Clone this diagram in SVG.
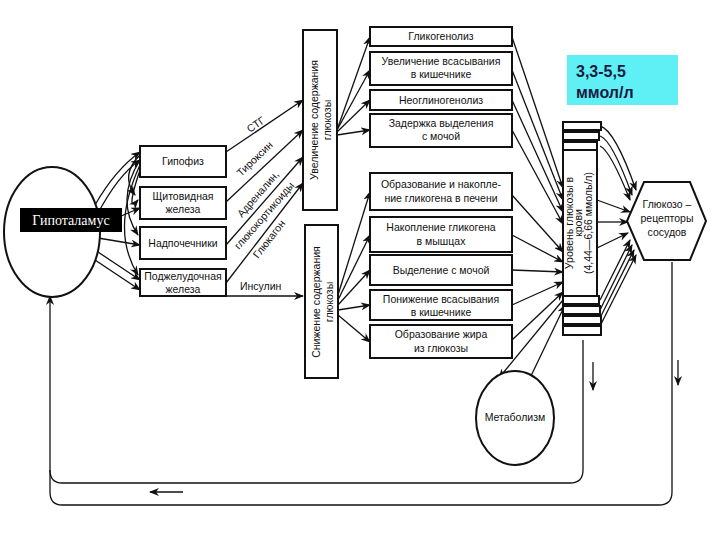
<svg xmlns="http://www.w3.org/2000/svg" width="720" height="540" viewBox="0 0 720 540">
<defs>
<marker id="a" markerWidth="10" markerHeight="8" refX="9" refY="4" orient="auto" markerUnits="userSpaceOnUse"><path d="M0,0 L10,4 L0,8 L3,4 Z" fill="#111"/></marker>
<style>
.b{fill:#fff;stroke:#111;stroke-width:2}
.t{font-family:"Liberation Sans",Arial,sans-serif;font-size:10.5px;fill:#111;text-anchor:middle}
.c path,.c line{fill:none;stroke:#111;stroke-width:1.3}
.ar{marker-end:url(#a)}
.lb{font-family:"Liberation Sans",Arial,sans-serif;font-size:10.5px;fill:#111}
.hy{font-family:"Liberation Serif","Times New Roman",serif;font-size:14px;fill:#fff;text-anchor:middle}
</style>
</defs>
<rect width="720" height="540" fill="#fff"/>
<g class="c">
<path class="ar" d="M95,205 Q115,170 140,152"/>
<path class="ar" d="M97,215 Q118,175 140,160"/>
<path class="ar" d="M100,225 L140,208"/>
<path class="ar" d="M98,238 L140,245"/>
<path class="ar" d="M95,250 L140,280"/>
<path class="ar" d="M92,258 L140,290"/>
<path class="ar" d="M140,155 Q120,175 135,195"/>
<path class="ar" d="M140,160 Q115,200 138,235"/>
<path class="ar" d="M140,165 Q110,230 138,275"/>
<path class="ar" d="M140,170 Q125,215 138,200"/>
<path class="ar" d="M226,152 L303,100"/>
<path class="ar" d="M226,202 L303,130"/>
<path class="ar" d="M226,245 L303,157"/>
<path class="ar" d="M226,283 L303,183"/>
<path class="ar" d="M226,296 L303,296"/>
<path class="ar" d="M337,130 L370,37"/>
<path class="ar" d="M337,130 L370,70"/>
<path class="ar" d="M337,132 L370,100"/>
<path class="ar" d="M337,135 L370,130"/>
<path class="ar" d="M338,295 L370,192"/>
<path class="ar" d="M338,300 L370,235"/>
<path class="ar" d="M338,305 L370,270"/>
<path class="ar" d="M338,310 L370,305"/>
<path class="ar" d="M338,315 L370,342"/>
<path class="ar" d="M512,37 L563,188"/>
<path class="ar" d="M512,70 L563,200"/>
<path class="ar" d="M512,100 L563,212"/>
<path class="ar" d="M512,130 L563,224"/>
<path class="ar" d="M512,195 L563,252"/>
<path class="ar" d="M512,235 L563,262"/>
<path class="ar" d="M512,270 L563,272"/>
<path class="ar" d="M512,305 L563,282"/>
<path class="ar" d="M512,340 L563,292"/>
<path class="ar" d="M563,300 L499,378"/>
<path class="ar" d="M530,378 L565,305"/>
<path class="ar" d="M600,126 Q615,130 636,190"/>
<path class="ar" d="M600,136 Q612,140 632,195"/>
<path class="ar" d="M600,146 Q610,150 630,200"/>
<path class="ar" d="M597,200 L630,212"/>
<path class="ar" d="M597,222 L628,222"/>
<path class="ar" d="M597,248 L628,233"/>
<path class="ar" d="M600,300 L630,240"/>
<path class="ar" d="M600,310 L632,245"/>
<path class="ar" d="M600,318 L634,250"/>
<path class="ar" d="M600,326 L636,255"/>
<path d="M583,340 L583,470 Q583,483 570,483 L62,483 Q50,483 50,470"/>
<path d="M672,262 L672,492 Q672,505 659,505 L62,505 Q50,505 50,492 L50,470"/>
<path class="ar" d="M50,470 L50,296"/>
<path class="ar" d="M183,492 L150,492"/>
<path class="ar" d="M593,362 L593,390"/>
<path class="ar" d="M678,360 L678,385"/>
</g>
<g id="hypothalamus">
<ellipse cx="52" cy="232" rx="48" ry="65" class="b"/>
<rect x="20" y="208" width="102" height="24" fill="#000"/>
<text class="hy" x="71" y="225">Гипоталамус</text>
</g>
<g id="g1"><rect x="140" y="146" width="86" height="31" class="b"/><text class="t" x="183" y="165">Гипофиз</text></g>
<g id="g2"><rect x="140" y="187" width="86" height="32" class="b"/><text class="t" x="183" y="200">Щитовидная</text><text class="t" x="183" y="213">железа</text></g>
<g id="g3"><rect x="140" y="227" width="86" height="32" class="b"/><text class="t" x="183" y="247">Надпочечники</text></g>
<g id="g4"><rect x="140" y="269" width="86" height="27" class="b"/><text class="t" x="183" y="280">Поджелудочная</text><text class="t" x="183" y="293">железа</text></g>
<g id="labels">
<text class="lb" transform="translate(250,133) rotate(-35)">СТГ</text>
<text class="lb" transform="translate(241,177) rotate(-44)">Тироксин</text>
<text class="lb" transform="translate(242,218) rotate(-49)">Адреналин,</text>
<text class="lb" transform="translate(239,250) rotate(-49)">глюкокортикоиды</text>
<text class="lb" transform="translate(258,259) rotate(-52)">Глюкагон</text>
<text class="lb" x="240" y="290">Инсулин</text>
</g>
<g id="up"><rect x="303" y="30" width="34" height="180" class="b"/>
<text class="t" transform="translate(318,120) rotate(-90)">Увеличение содержания</text>
<text class="t" transform="translate(331,120) rotate(-90)">глюкозы</text></g>
<g id="down"><rect x="305" y="225" width="33" height="153" class="b"/>
<text class="t" transform="translate(320,302) rotate(-90)">Снижение содержания</text>
<text class="t" transform="translate(333,302) rotate(-90)">глюкозы</text></g>
<g id="r1"><rect x="370" y="27" width="142" height="19" class="b"/><text class="t" x="441" y="40">Гликогенолиз</text></g>
<g id="r2"><rect x="370" y="52" width="142" height="33" class="b"/><text class="t" x="441" y="65">Увеличение всасывания</text><text class="t" x="441" y="78">в кишечнике</text></g>
<g id="r3"><rect x="370" y="90" width="142" height="20" class="b"/><text class="t" x="441" y="104">Неоглиногенолиз</text></g>
<g id="r4"><rect x="370" y="114" width="142" height="33" class="b"/><text class="t" x="441" y="127">Задержка выделения</text><text class="t" x="441" y="140">с мочой</text></g>
<g id="r5"><rect x="370" y="173" width="142" height="37" class="b"/><text class="t" x="441" y="188">Образование и накопле-</text><text class="t" x="441" y="202">ние гликогена в печени</text></g>
<g id="r6"><rect x="370" y="217" width="142" height="35" class="b"/><text class="t" x="441" y="231">Накопление гликогена</text><text class="t" x="441" y="245">в мышцах</text></g>
<g id="r7"><rect x="370" y="255" width="142" height="30" class="b"/><text class="t" x="441" y="274">Выделение с мочой</text></g>
<g id="r8"><rect x="370" y="290" width="142" height="30" class="b"/><text class="t" x="441" y="303">Понижение всасывания</text><text class="t" x="441" y="316">в кишечнике</text></g>
<g id="r9"><rect x="370" y="325" width="142" height="33" class="b"/><text class="t" x="441" y="338">Образование жира</text><text class="t" x="441" y="352">из глюкозы</text></g>
<g id="level">
<rect x="563" y="122" width="38" height="8" class="b"/>
<rect x="563" y="132" width="36" height="8" class="b"/>
<rect x="563" y="142" width="34" height="8" class="b"/>
<rect x="563" y="296" width="36" height="8" class="b"/>
<rect x="563" y="306" width="37" height="8" class="b"/>
<rect x="563" y="316" width="38" height="8" class="b"/>
<rect x="563" y="326" width="38" height="9" class="b"/>
<rect x="563" y="150" width="34" height="146" class="b"/>
<text class="t" font-size="9.5" transform="translate(573,223) rotate(-90)">Уровень глюкозы в</text>
<text class="t" font-size="9.5" transform="translate(582,223) rotate(-90)">крови</text>
<text class="t" font-size="9.5" transform="translate(592,223) rotate(-90)">(4,44—6,66 ммоль/л)</text>
</g>
<g id="hex"><path d="M644,182 L690,182 L706,221 L690,260 L644,260 L627,221 Z" class="b"/>
<text class="t" x="667" y="208">Глюкозо –</text><text class="t" x="667" y="222">рецепторы</text><text class="t" x="667" y="236">сосудов</text></g>
<g id="metab"><ellipse cx="515" cy="418" rx="39" ry="47" class="b"/><text class="t" x="515" y="421">Метаболизм</text></g>
<g id="note"><rect x="567" y="55" width="111" height="50" fill="#5ff0f6"/>
<text x="576" y="77" font-family="'Liberation Sans',Arial,sans-serif" font-size="16" font-weight="bold" fill="#1a1a40">3,3-5,5</text>
<text x="576" y="98" font-family="'Liberation Sans',Arial,sans-serif" font-size="16" font-weight="bold" fill="#1a1a40">ммол/л</text></g>
</svg>
